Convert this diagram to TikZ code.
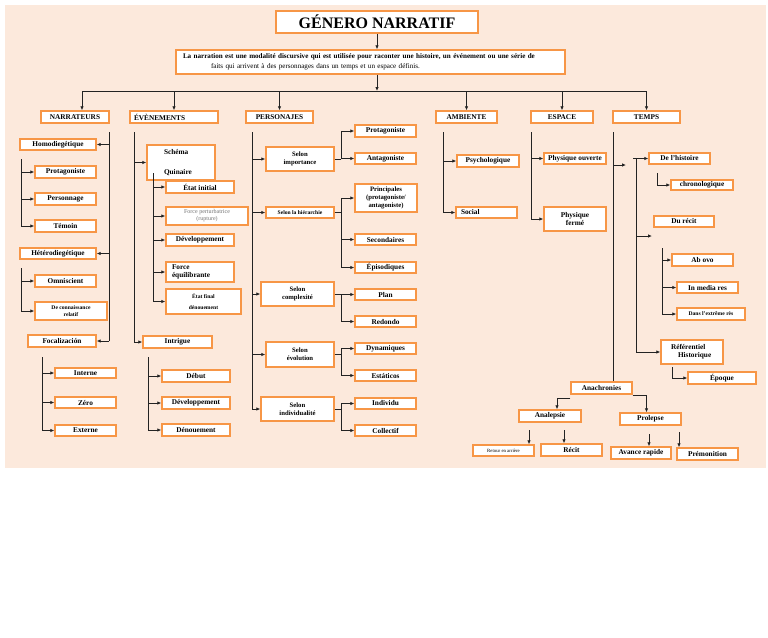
\documentclass[tikz,border=0pt]{standalone}
\usepackage{fontspec}
\setmainfont{Liberation Serif}
\usetikzlibrary{arrows.meta,calc}
\definecolor{peach}{RGB}{252,233,220}
\definecolor{orangeB}{RGB}{247,150,70}
\definecolor{linec}{RGB}{35,35,35}
\newcommand\mybox[7][]{%
  \node[box,minimum width={#4-#2},minimum height={#5-#3},#1] (#6) at ({(#2+#4)/2},{(#3+#5)/2}) {#7};}
\begin{document}
\begin{tikzpicture}[x=1pt,y=-1pt,
  box/.style={draw=orangeB,fill=white,line width=1.4pt,inner xsep=2pt,inner ysep=1pt,align=center,font=\fontsize{7.3}{8.3}\selectfont\bfseries},
  fsmall/.style={font=\fontsize{5.6}{6.6}\selectfont\bfseries},
  fmid/.style={font=\fontsize{6.7}{7.7}\selectfont\bfseries},
  lt/.style={draw=linec,line width=0.8pt},
  arr/.style={lt,-{Latex[length=4pt,width=3.5pt]}}]
\useasboundingbox (0,0) rectangle (768,637);
\fill[white] (0,0) rectangle (768,637);
\fill[peach] (5,5) rectangle (766,468);
% title and definition
\mybox[font=\fontsize{16}{18}\selectfont\bfseries,line width=1.6pt]{276}{11}{478}{33}{title}{GÉNERO NARRATIF}
\mybox[text width=375pt,align=left,inner xsep=7pt,font=\fontsize{7.1}{10}\selectfont\bfseries]{176}{50}{565}{74}{def}{La narration est une modalité discursive qui est utilisée pour raconter une histoire, un événement ou une série de\\\hspace*{28pt}\mdseries faits qui arrivent à des personnages dans un temps et un espace définis.}
% level 1
\mybox{41}{111}{109}{123}{narr}{NARRATEURS}
\mybox[align=left,text width=80pt,inner xsep=4pt]{130}{111}{218}{123}{evt}{ÉVÈNEMENTS}
\mybox{246}{111}{313}{123}{pers}{PERSONAJES}
\mybox{436}{111}{497}{123}{amb}{AMBIENTE}
\mybox{531}{111}{593}{123}{esp}{ESPACE}
\mybox{613}{111}{680}{123}{temps}{TEMPS}
% narrateurs
\mybox{20}{139}{96}{150}{homo}{Homodiegétique}
\mybox{35}{166}{96}{178}{prot1}{Protagoniste}
\mybox{35}{193}{96}{205}{personnage}{Personnage}
\mybox{35}{220}{96}{232}{temoin}{Témoin}
\mybox{20}{248}{96}{259}{hetero}{Hétérodiegétique}
\mybox{35}{275}{96}{287}{omni}{Omniscient}
\mybox[fsmall]{35}{302}{107}{320}{conn}{De connaissance\\relatif}
\mybox{28}{335}{96}{347}{focal}{Focalización}
\mybox{55}{368}{116}{378}{interne}{Interne}
\mybox{55}{397}{116}{408}{zero}{Zéro}
\mybox{55}{425}{116}{436}{externe}{Externe}
% evenements
\mybox[align=left,text width=50pt,inner xsep=9pt]{147}{145}{215}{180}{schema}{\hspace*{8pt}Schéma\\[12pt]\hspace*{8pt}Quinaire}
\mybox{166}{181}{234}{193}{etatinit}{État initial}
\mybox[font=\fontsize{6}{7}\selectfont,text=black!55]{166}{207}{248}{225}{forcep}{Force perturbatrice\\(rupture)}
\mybox{166}{234}{234}{246}{devel1}{Développement}
\mybox[align=left,text width=56pt,inner xsep=6pt]{166}{262}{234}{282}{forceeq}{Force\\équilibrante}
\mybox[fsmall]{166}{289}{241}{314}{etatfin}{État final\\[5pt]dénouement}
\mybox{143}{336}{212}{348}{intrigue}{Intrigue}
\mybox{162}{370}{230}{382}{debut}{Début}
\mybox{162}{397}{230}{409}{devel2}{Développement}
\mybox{162}{424}{230}{436}{denoue}{Dénouement}
% personajes
\mybox[fmid]{266}{147}{334}{171}{simp}{Selon\\importance}
\mybox[fsmall]{266}{207}{334}{218}{shier}{Selon la hiérarchie}
\mybox[fmid]{261}{282}{334}{306}{scomp}{Selon\\complexité}
\mybox[fmid]{266}{342}{334}{367}{sevol}{Selon\\évolution}
\mybox[fmid]{261}{397}{334}{421}{sindiv}{Selon\\individualité}
\mybox{355}{125}{416}{137}{pprot}{Protagoniste}
\mybox{355}{153}{416}{164}{pant}{Antagoniste}
\mybox[fmid]{355}{184}{417}{212}{pprinc}{Principales\\(protagoniste/\\antagoniste)}
\mybox{355}{234}{416}{245}{psec}{Secondaires}
\mybox{355}{262}{416}{273}{pepi}{Épisodiques}
\mybox{355}{289}{416}{300}{plan}{Plan}
\mybox{355}{316}{416}{327}{redondo}{Redondo}
\mybox{355}{343}{416}{354}{dyn}{Dynamiques}
\mybox{355}{370}{416}{381}{esta}{Estáticos}
\mybox{355}{398}{416}{409}{indiv}{Individu}
\mybox{355}{425}{416}{436}{coll}{Collectif}
% ambiente, espace
\mybox{457}{155}{519}{167}{psycho}{Psychologique}
\mybox[align=left,text width=51pt,inner xsep=5pt]{456}{207}{517}{218}{social}{Social}
\mybox{544}{153}{606}{164}{ouv}{Physique ouverte}
\mybox{544}{207}{606}{231}{ferme}{Physique\\fermé}
% temps
\mybox{649}{153}{710}{164}{hist}{De l'histoire}
\mybox{671}{180}{733}{190}{chrono}{chronologique}
\mybox{654}{216}{714}{227}{recit}{Du récit}
\mybox{672}{254}{733}{266}{abovo}{Ab ovo}
\mybox{677}{282}{738}{293}{media}{In media res}
\mybox[fsmall]{677}{308}{745}{320}{dans}{Dans l'extrême rès}
\mybox[align=left,text width=52pt,inner xsep=5pt]{661}{340}{723}{364}{refh}{\hspace*{5pt}Référentiel\\\hspace*{12pt}Historique}
\mybox{688}{372}{756}{384}{epoque}{Époque}
\mybox{571}{382}{632}{394}{anach}{Anachronies}
\mybox{519}{410}{581}{422}{analep}{Analepsie}
\mybox{620}{413}{681}{425}{prolep}{Prolepse}
\mybox[font=\fontsize{4.8}{5.5}\selectfont]{473}{445}{534}{456}{retour}{Retour en arrière}
\mybox{541}{444}{602}{456}{recit2}{Récit}
\mybox{611}{447}{671}{459}{avance}{Avance rapide}
\mybox{677}{448}{738}{460}{premo}{Prémonition}
% ---------- connectors ----------
\draw[arr] (title.south) -- (title.south |- def.north);
\coordinate (bus) at (0,91);
\draw[arr] (title.south |- def.south) -- (title.south |- bus);
\coordinate (nn) at ($(narr.north)+(7,0)$);
\draw[lt] (nn |- bus) -- (temps.north |- bus);
\draw[arr] (nn |- bus) -- (nn);
\foreach \n in {evt,pers,amb,esp,temps} \draw[arr] (\n.north |- bus) -- (\n.north);
% narrateurs
\coordinate (nv) at (109,132);
\draw[lt] (nv) -- (nv |- focal.east);
\foreach \n in {homo,hetero,focal} \draw[arr] (nv |- \n.east) -- (\n.east);
\coordinate (hv) at (21,159);
\draw[lt] (hv) -- (hv |- temoin.west);
\foreach \n in {prot1,personnage,temoin} \draw[arr] (hv |- \n.west) -- (\n.west);
\coordinate (hv2) at (21,268);
\draw[lt] (hv2) -- (hv2 |- conn.west);
\foreach \n in {omni,conn} \draw[arr] (hv2 |- \n.west) -- (\n.west);
\coordinate (fv) at (42,357);
\draw[lt] (fv) -- (fv |- externe.west);
\foreach \n in {interne,zero,externe} \draw[arr] (fv |- \n.west) -- (\n.west);
% evenements
\coordinate (ev) at (134,132);
\draw[lt] (ev) -- (ev |- intrigue.west);
\foreach \n in {schema,intrigue} \draw[arr] (ev |- \n.west) -- (\n.west);
\coordinate (sv) at (153,173);
\draw[lt] (sv) -- (sv |- etatfin.west);
\foreach \n in {etatinit,forcep,devel1,forceeq,etatfin} \draw[arr] (sv |- \n.west) -- (\n.west);
\coordinate (iv) at (148,357);
\draw[lt] (iv) -- (iv |- denoue.west);
\foreach \n in {debut,devel2,denoue} \draw[arr] (iv |- \n.west) -- (\n.west);
% personajes
\coordinate (pv) at (252,132);
\draw[lt] (pv) -- (pv |- sindiv.west);
\foreach \n in {simp,shier,scomp,sevol,sindiv} \draw[arr] (pv |- \n.west) -- (\n.west);
\coordinate (fk) at (341,0);
\foreach \p/\a/\b in {simp/pprot/pant,shier/pprinc/pepi,scomp/plan/redondo,sevol/dyn/esta,sindiv/indiv/coll}{
  \draw[lt] (\p.east) -- (fk |- \p.east);
  \draw[lt] (fk |- \a.west) -- (fk |- \b.west);
}
\foreach \c in {pprot,pant,pprinc,psec,pepi,plan,redondo,dyn,esta,indiv,coll} \draw[arr] (fk |- \c.west) -- (\c.west);
% ambiente, espace
\coordinate (av) at (443,132);
\draw[lt] (av) -- (av |- social.west);
\foreach \n in {psycho,social} \draw[arr] (av |- \n.west) -- (\n.west);
\coordinate (spv) at (531,132);
\draw[lt] (spv) -- (spv |- ferme.west);
\foreach \n in {ouv,ferme} \draw[arr] (spv |- \n.west) -- (\n.west);
% temps
\coordinate (tv) at (613,132);
\draw[lt] (tv) -- (tv |- anach.north);
\coordinate (tb) at (626,165);
\draw[arr] (tv |- tb) -- (tb);
\coordinate (t2) at (636,0);
\draw[arr] ($(t2 |- hist.west)+(-3,0)$) -- (hist.west);
\draw[lt] (t2 |- hist.west) -- (t2 |- refh.west);
\coordinate (rc) at (652,236);
\draw[arr] (t2 |- rc) -- (rc);
\draw[arr] (t2 |- refh.west) -- (refh.west);
\coordinate (hs) at (657,173);
\draw[arr] (hs) |- (chrono.west);
\coordinate (rv) at (662,248);
\draw[lt] (rv) -- (rv |- dans.west);
\foreach \n in {abovo,media,dans} \draw[arr] (rv |- \n.west) -- (\n.west);
\coordinate (rs) at (672,367);
\draw[arr] (rs) |- (epoque.west);
% anachronies
\draw[arr] ($(anach.south west)+(0,4)$) -| ($(analep.north)+(7,0)$);
\draw[arr] ($(anach.east)+(0,7)$) -| ($(prolep.north)+(-4,0)$);
\coordinate (q1) at (529,430);
\draw[arr] (q1) -- (q1 |- retour.north);
\coordinate (q2) at (564,430);
\draw[arr] (q2) -- (q2 |- recit2.north);
\coordinate (q3) at (649,434);
\draw[arr] (q3) -- (q3 |- avance.north);
\coordinate (q4) at (679,432);
\draw[arr] (q4) -- (q4 |- premo.north);
\end{tikzpicture}
\end{document}
